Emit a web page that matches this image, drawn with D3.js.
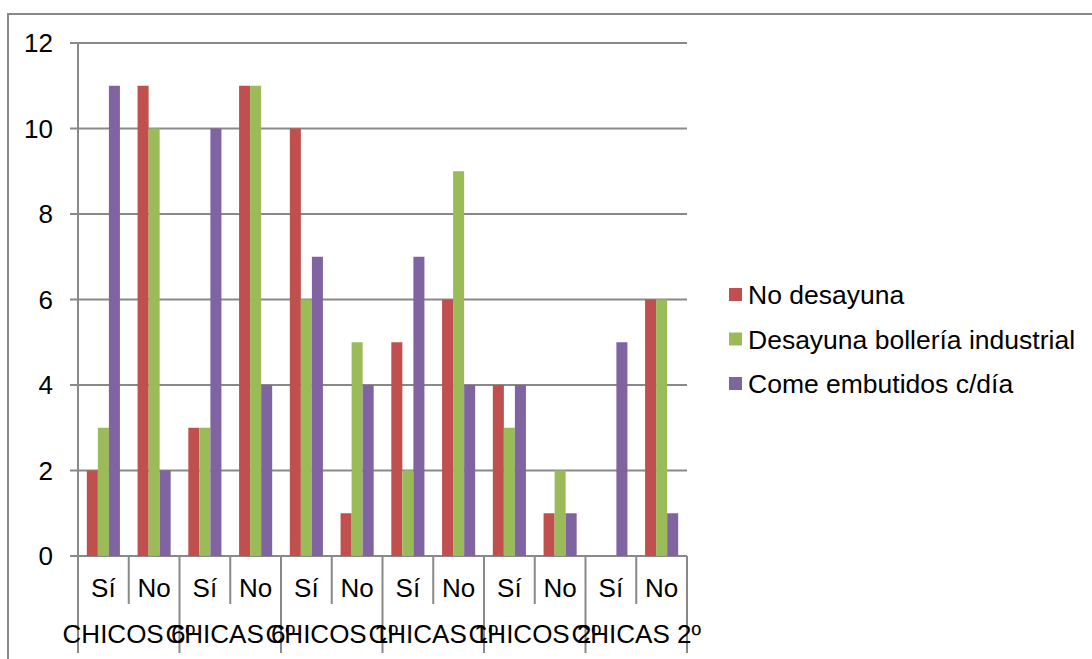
<!DOCTYPE html>
<html>
<head>
<meta charset="utf-8">
<script src="https://cdn.jsdelivr.net/npm/d3@7"></script>
<style>
  html, body { margin: 0; padding: 0; background: #fff; }
  svg { display: block; }
  text { font-family: Arial, "Liberation Sans", sans-serif; fill: #000; }
</style>
</head>
<body>
<svg id="chart" width="1092" height="659"></svg>
<script>
// Groups on the outer category level, answers on the inner level
const groups = ["CHICOS 6º", "CHICAS 6º", "CHICOS 1º", "CHICAS 1º", "CHICOS 2º", "CHICAS 2º"];
const answers = ["Sí", "No"];
const seriesNames = ["No desayuna", "Desayuna bollería industrial", "Come embutidos c/día"];
const seriesColors = ["#C0504D", "#9BBB59", "#8064A2"];

// One value per (group, answer), in the order of groups × answers
const noDesayuna = [2, 11, 3, 11, 10, 1, 5, 6, 4, 1, 0, 6];
const bolleria   = [3, 10, 3, 11, 6, 5, 2, 9, 3, 2, 0, 6];
const embutidos  = [11, 2, 10, 4, 7, 4, 7, 4, 4, 1, 5, 1];
const yTicks = [0, 2, 4, 6, 8, 10, 12];

const series = [noDesayuna, bolleria, embutidos];
const categories = [];
groups.forEach(g => answers.forEach(a => categories.push({ group: g, answer: a, key: g + "|" + a })));

const svg = d3.select("#chart");
const gridColor = "#898989";
const fontSize = 26;

const plot = { left: 78, right: 687, top: 43, bottom: 556 };

const x = d3.scaleBand()
  .domain(categories.map(c => c.key))
  .range([plot.left, plot.right])
  .paddingInner(0)
  .paddingOuter(0);

const xGroup = d3.scaleBand()
  .domain(groups)
  .range([plot.left, plot.right]);

const xSeries = d3.scaleBand()
  .domain(d3.range(series.length))
  .range([0, x.bandwidth()])
  .paddingInner(0)
  .paddingOuter(0.8);

const y = d3.scaleLinear().domain([0, 12]).range([plot.bottom, plot.top]);

// Outer chart frame (partly outside the view)
svg.append("rect")
  .attr("x", 8).attr("y", 14)
  .attr("width", 1200).attr("height", 800)
  .attr("fill", "none")
  .attr("stroke", gridColor)
  .attr("stroke-width", 2);

// Horizontal gridlines with short ticks to the left of the axis
svg.append("g")
  .selectAll("line")
  .data(yTicks)
  .join("line")
  .attr("x1", plot.left - 8)
  .attr("x2", plot.right)
  .attr("y1", d => y(d))
  .attr("y2", d => y(d))
  .attr("stroke", gridColor)
  .attr("stroke-width", 2);

// Value axis line
svg.append("line")
  .attr("x1", plot.left).attr("x2", plot.left)
  .attr("y1", plot.top).attr("y2", plot.bottom)
  .attr("stroke", gridColor)
  .attr("stroke-width", 2);

// Value axis labels
svg.append("g")
  .selectAll("text")
  .data(yTicks)
  .join("text")
  .attr("x", 53)
  .attr("y", d => y(d))
  .attr("dy", "0.35em")
  .attr("text-anchor", "end")
  .attr("font-size", fontSize)
  .text(d => d);

// Bars
const cats = svg.append("g")
  .selectAll("g")
  .data(categories)
  .join("g")
  .attr("transform", c => `translate(${x(c.key)},0)`);

cats.selectAll("rect")
  .data((c, i) => series.map((s, si) => ({ si, v: s[i] })))
  .join("rect")
  .attr("x", d => xSeries(d.si))
  .attr("width", xSeries.bandwidth())
  .attr("y", d => y(d.v))
  .attr("height", d => y(0) - y(d.v))
  .attr("fill", d => seriesColors[d.si]);

// Inner category separators and labels
const inner = svg.append("g");
inner.selectAll("line")
  .data(categories.slice(1).filter((c, i) => (i + 1) % answers.length !== 0))
  .join("line")
  .attr("x1", c => x(c.key))
  .attr("x2", c => x(c.key))
  .attr("y1", plot.bottom)
  .attr("y2", 604)
  .attr("stroke", gridColor)
  .attr("stroke-width", 2);

inner.selectAll("text")
  .data(categories)
  .join("text")
  .attr("x", c => x(c.key) + x.bandwidth() / 2)
  .attr("y", 588)
  .attr("dy", "0.35em")
  .attr("text-anchor", "middle")
  .attr("font-size", fontSize)
  .text(c => c.answer);

// Outer group separators and labels
const outer = svg.append("g");
outer.selectAll("line")
  .data(groups.concat(["end"]))
  .join("line")
  .attr("x1", (g, i) => i < groups.length ? xGroup(g) : plot.right)
  .attr("x2", (g, i) => i < groups.length ? xGroup(g) : plot.right)
  .attr("y1", plot.bottom)
  .attr("y2", 653)
  .attr("stroke", gridColor)
  .attr("stroke-width", 2);

outer.selectAll("text")
  .data(groups)
  .join("text")
  .attr("x", g => xGroup(g) + xGroup.bandwidth() / 2)
  .attr("y", 634)
  .attr("dy", "0.35em")
  .attr("text-anchor", "middle")
  .attr("font-size", fontSize)
  .text(g => g);

// Legend
const legend = svg.append("g")
  .selectAll("g")
  .data(seriesNames)
  .join("g")
  .attr("transform", (d, i) => `translate(729,${295 + i * 44.5})`);

legend.append("rect")
  .attr("x", 0).attr("y", -7)
  .attr("width", 13).attr("height", 13)
  .attr("fill", (d, i) => seriesColors[i]);

legend.append("text")
  .attr("x", 19)
  .attr("y", 0)
  .attr("dy", "0.35em")
  .attr("font-size", 26.5)
  .text(d => d);
</script>
</body>
</html>
